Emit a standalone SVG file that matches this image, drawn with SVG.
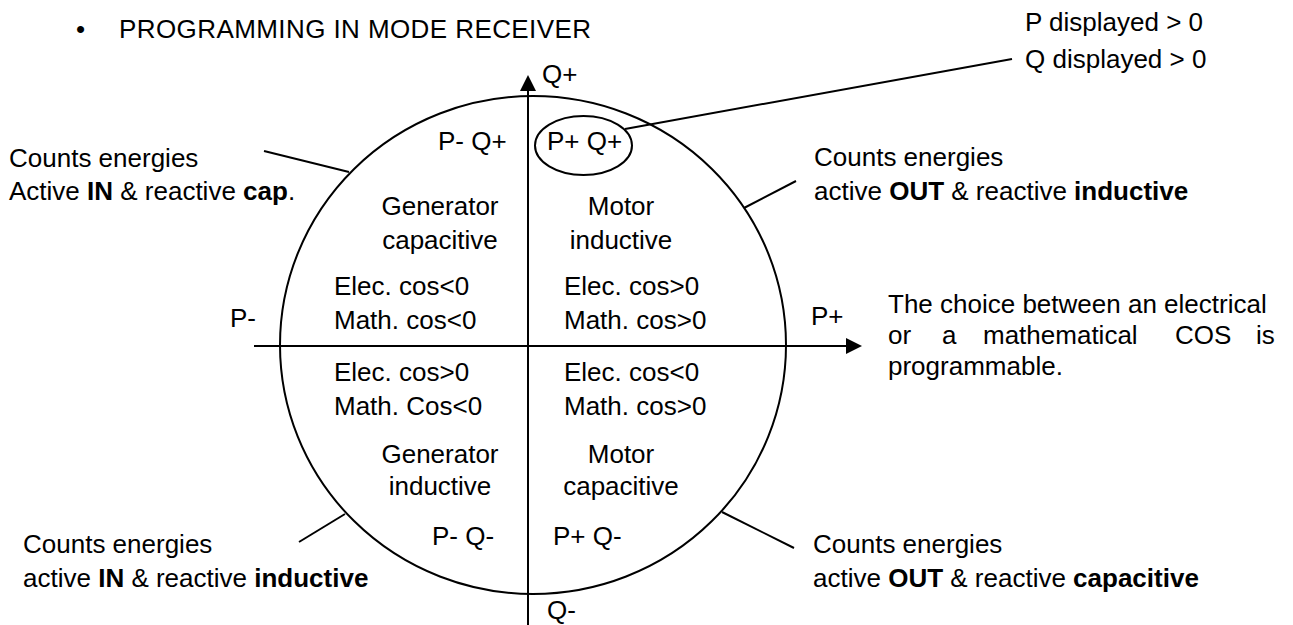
<svg xmlns="http://www.w3.org/2000/svg" width="1293" height="625" viewBox="0 0 1293 625">
<style>
text{font-family:"Liberation Sans",Arial,sans-serif;font-size:26px;fill:#000}
.b{font-weight:bold}
.m{text-anchor:middle}
.ln{stroke:#000;stroke-width:2;fill:none}
</style>
<defs>
<marker id="ah" markerWidth="8" markerHeight="8" refX="7" refY="4" orient="auto" markerUnits="strokeWidth">
<path d="M0,0 L8,4 L0,8 z" fill="#000"/>
</marker>
</defs>
<rect width="1293" height="625" fill="#fff"/>
<g id="title"><text x="76" y="38">•</text><text x="119" y="38" textLength="472">PROGRAMMING IN MODE RECEIVER</text></g>
<g id="circle"><ellipse class="ln" cx="533" cy="345" rx="253" ry="249"/></g>
<g id="connectors">
<line class="ln" x1="254" y1="346" x2="860" y2="346" marker-end="url(#ah)"/>
<line class="ln" x1="528" y1="625" x2="528" y2="77" marker-end="url(#ah)"/>
<line class="ln" x1="625" y1="129" x2="1012" y2="59"/>
<line class="ln" x1="264" y1="151" x2="349" y2="172"/>
<line class="ln" x1="744" y1="208" x2="796" y2="181"/>
<line class="ln" x1="345" y1="514" x2="299" y2="542"/>
<line class="ln" x1="722" y1="512" x2="794" y2="548"/>
</g>
<g id="axis-labels">
<text x="542" y="83">Q+</text>
<text x="547" y="619">Q-</text>
<text x="230" y="327">P-</text>
<text x="811" y="325">P+</text>
</g>
<g id="q1">
<ellipse class="ln" cx="583.5" cy="145.5" rx="48.5" ry="29.5"/>
<text x="547" y="150">P+ Q+</text>
<text class="m" x="621" y="215">Motor</text>
<text class="m" x="621" y="249">inductive</text>
<text x="564" y="295">Elec. cos&gt;0</text>
<text x="564" y="329">Math. cos&gt;0</text>
</g>
<g id="q2">
<text x="438" y="150">P- Q+</text>
<text class="m" x="440" y="215">Generator</text>
<text class="m" x="440" y="249">capacitive</text>
<text x="334" y="295">Elec. cos&lt;0</text>
<text x="334" y="329">Math. cos&lt;0</text>
</g>
<g id="q3">
<text x="334" y="381">Elec. cos&gt;0</text>
<text x="334" y="415">Math. Cos&lt;0</text>
<text class="m" x="440" y="463">Generator</text>
<text class="m" x="440" y="495">inductive</text>
<text x="432" y="545">P- Q-</text>
</g>
<g id="q4">
<text x="564" y="381">Elec. cos&lt;0</text>
<text x="564" y="415">Math. cos&gt;0</text>
<text class="m" x="621" y="463">Motor</text>
<text class="m" x="621" y="495">capacitive</text>
<text x="553" y="545">P+ Q-</text>
</g>
<g id="note-pq">
<text x="1025" y="31">P displayed &gt; 0</text>
<text x="1025" y="68">Q displayed &gt; 0</text>
</g>
<g id="note-tl">
<text x="9" y="167">Counts energies</text>
<text x="9" y="200">Active <tspan class="b">IN</tspan> &amp; reactive <tspan class="b">cap</tspan>.</text>
</g>
<g id="note-tr">
<text x="814" y="166">Counts energies</text>
<text x="814" y="200">active <tspan class="b">OUT</tspan> &amp; reactive <tspan class="b">inductive</tspan></text>
</g>
<g id="note-bl">
<text x="23" y="553">Counts energies</text>
<text x="23" y="587">active <tspan class="b">IN</tspan> &amp; reactive <tspan class="b">inductive</tspan></text>
</g>
<g id="note-br">
<text x="813" y="553">Counts energies</text>
<text x="813" y="587">active <tspan class="b">OUT</tspan> &amp; reactive <tspan class="b">capacitive</tspan></text>
</g>
<g id="note-cos">
<text x="888" y="313">The choice between an electrical</text>
<text y="344"><tspan x="888">or</tspan><tspan x="942">a</tspan><tspan x="983">mathematical</tspan><tspan x="1175">COS</tspan><tspan x="1256">is</tspan></text>
<text x="888" y="375">programmable.</text>
</g>
</svg>
